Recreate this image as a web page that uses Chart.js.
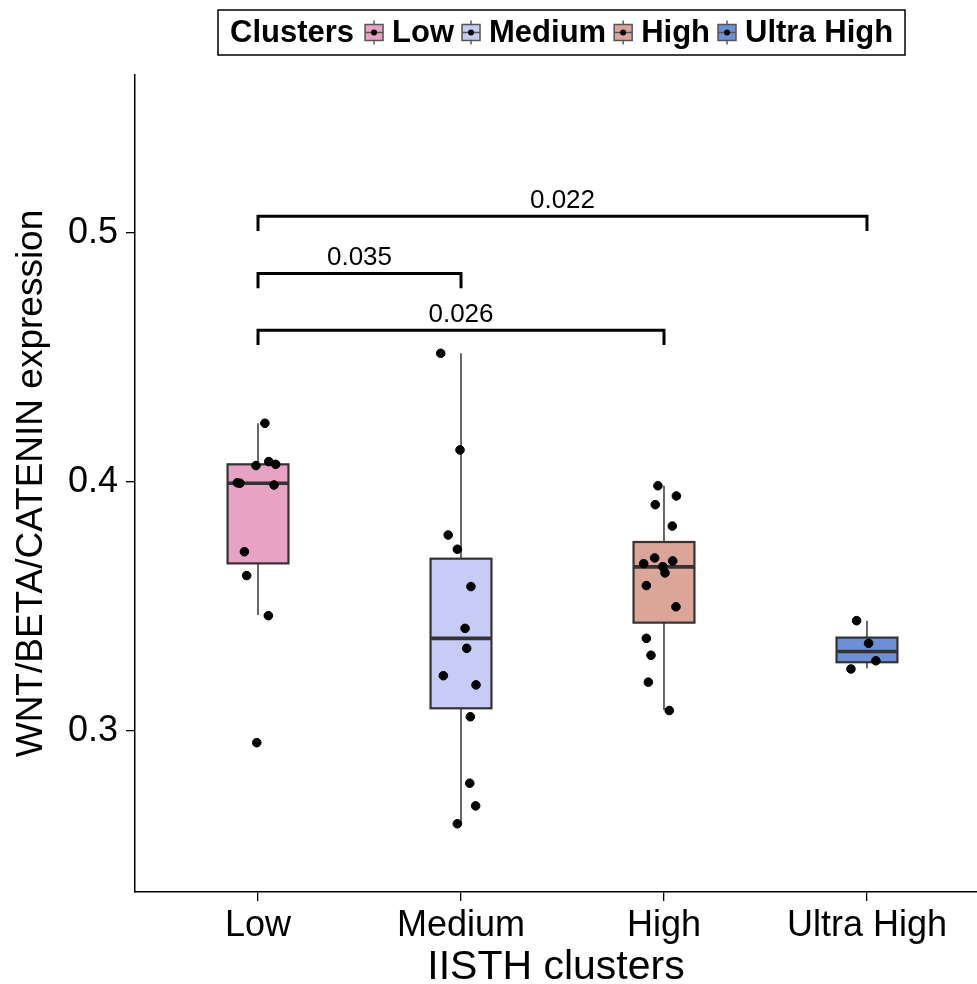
<!DOCTYPE html>
<html>
<head>
<meta charset="utf-8">
<script src="https://cdn.jsdelivr.net/npm/chart.js@4/dist/chart.umd.min.js"></script>
<style>
  html, body { margin: 0; padding: 0; background: #fff; }
</style>
</head>
<body>
<canvas id="chart" width="977" height="984"></canvas>
<script>
var categories = ['Low', 'Medium', 'High', 'Ultra High'];
var boxColors = ['#E7A2C5', '#C6CCF5', '#DBA699', '#6D8FD7'];

// box statistics per cluster
var whiskerLow = [0.3466, 0.2629, 0.3084, 0.3252];
var q1 = [0.3673, 0.3091, 0.3435, 0.3276];
var medians = [0.3995, 0.3372, 0.3659, 0.3319];
var q3 = [0.4071, 0.3692, 0.3759, 0.3375];
var whiskerHigh = [0.4236, 0.4517, 0.3985, 0.3443];

// jittered points (value, horizontal jitter in category units)
var lowValues = [0.4236, 0.4066, 0.4082, 0.4071, 0.3997, 0.3995, 0.3988, 0.3720, 0.3624, 0.3463, 0.2953];
var lowJitter = [0.034, -0.010, 0.053, 0.087, -0.102, -0.089, 0.079, -0.067, -0.056, 0.051, -0.006];
var mediumValues = [0.4517, 0.4129, 0.3787, 0.3730, 0.3580, 0.3412, 0.3332, 0.3222, 0.3185, 0.3057, 0.2790, 0.2699, 0.2627];
var mediumJitter = [-0.100, -0.005, -0.063, -0.018, 0.049, 0.020, 0.028, -0.087, 0.074, 0.046, 0.043, 0.072, -0.018];
var highValues = [0.3985, 0.3944, 0.3909, 0.3823, 0.3695, 0.3672, 0.3683, 0.3660, 0.3635, 0.3584, 0.3499, 0.3372, 0.3304, 0.3196, 0.3082];
var highJitter = [-0.030, 0.061, -0.043, 0.041, -0.046, -0.100, 0.043, -0.006, 0.005, -0.087, 0.059, -0.087, -0.064, -0.077, 0.026];
var ultraValues = [0.3443, 0.3352, 0.3282, 0.3249];
var ultraJitter = [-0.051, 0.008, 0.044, -0.079];

var seriesValues = [lowValues, mediumValues, highValues, ultraValues];
var seriesJitter = [lowJitter, mediumJitter, highJitter, ultraJitter];

var yTicks = [0.3, 0.4, 0.5];

// significance brackets
var pLabels = ['0.022', '0.035', '0.026'];
var pFrom = [0, 0, 0];
var pTo = [3, 1, 2];
var pHeight = [0.5068, 0.4838, 0.4610];
var pTip = 0.006;

var FONT = "'Liberation Sans', Arial, Helvetica, sans-serif";
var boxHalf = 0.15;

var boxPlugin = {
  id: 'boxes',
  beforeDatasetsDraw: function (chart) {
    var c = chart.ctx, xs = chart.scales.x, ys = chart.scales.y;
    c.save();
    for (var i = 0; i < categories.length; i++) {
      var xc = xs.getPixelForValue(i);
      var xl = xs.getPixelForValue(i - boxHalf);
      var xr = xs.getPixelForValue(i + boxHalf);
      // whiskers
      c.strokeStyle = '#444';
      c.lineWidth = 1.6;
      c.beginPath();
      c.moveTo(xc, ys.getPixelForValue(whiskerHigh[i]));
      c.lineTo(xc, ys.getPixelForValue(q3[i]));
      c.moveTo(xc, ys.getPixelForValue(q1[i]));
      c.lineTo(xc, ys.getPixelForValue(whiskerLow[i]));
      c.stroke();
      // box
      var yt = ys.getPixelForValue(q3[i]);
      var yb = ys.getPixelForValue(q1[i]);
      c.fillStyle = boxColors[i];
      c.fillRect(xl, yt, xr - xl, yb - yt);
      c.strokeStyle = '#333';
      c.lineWidth = 2.2;
      c.strokeRect(xl, yt, xr - xl, yb - yt);
      // median
      c.lineWidth = 3.6;
      c.beginPath();
      c.moveTo(xl, ys.getPixelForValue(medians[i]));
      c.lineTo(xr, ys.getPixelForValue(medians[i]));
      c.stroke();
    }
    c.restore();
  },
  afterDraw: function (chart) {
    var c = chart.ctx, xs = chart.scales.x, ys = chart.scales.y;
    c.save();
    // brackets
    c.strokeStyle = '#000';
    c.lineWidth = 3;
    c.lineJoin = 'miter';
    c.fillStyle = '#000';
    c.font = '26px ' + FONT;
    c.textAlign = 'center';
    c.textBaseline = 'alphabetic';
    for (var k = 0; k < pLabels.length; k++) {
      var x1 = xs.getPixelForValue(pFrom[k]);
      var x2 = xs.getPixelForValue(pTo[k]);
      var yh = ys.getPixelForValue(pHeight[k]);
      var yt = ys.getPixelForValue(pHeight[k] - pTip);
      c.beginPath();
      c.moveTo(x1, yt);
      c.lineTo(x1, yh);
      c.lineTo(x2, yh);
      c.lineTo(x2, yt);
      c.stroke();
      c.fillText(pLabels[k], (x1 + x2) / 2, yh - 8);
    }
    // legend
    var lx = 218, ly = 10, lw = 687, lh = 45;
    c.lineWidth = 1.5;
    c.strokeRect(lx, ly, lw, lh);
    var cy = ly + lh / 2;
    c.font = 'bold 31px ' + FONT;
    c.textAlign = 'left';
    c.textBaseline = 'middle';
    var x = 230;
    c.fillText('Clusters', x, cy + 1);
    x += c.measureText('Clusters').width + 10;
    for (var i = 0; i < categories.length; i++) {
      // key glyph
      c.strokeStyle = '#444';
      c.lineWidth = 1.3;
      c.beginPath();
      c.moveTo(x + 10, cy - 12);
      c.lineTo(x + 10, cy + 12);
      c.stroke();
      c.fillStyle = boxColors[i];
      c.fillRect(x + 1, cy - 8, 18, 16);
      c.strokeStyle = '#555';
      c.lineWidth = 1.5;
      c.strokeRect(x + 1, cy - 8, 18, 16);
      c.beginPath();
      c.moveTo(x + 1, cy);
      c.lineTo(x + 19, cy);
      c.stroke();
      c.fillStyle = '#000';
      c.beginPath();
      c.arc(x + 10, cy, 3, 0, Math.PI * 2);
      c.fill();
      x += 28;
      c.fillText(categories[i], x, cy + 1);
      x += c.measureText(categories[i]).width + 7;
    }
    c.restore();
  }
};

var ctx = document.getElementById('chart');
new Chart(ctx, {
  type: 'scatter',
  data: {
    datasets: seriesValues.map(function (vals, i) {
      return {
        label: categories[i],
        data: vals.map(function (v, j) { return { x: i + seriesJitter[i][j], y: v }; }),
        backgroundColor: '#000',
        borderColor: '#000',
        pointRadius: 4.3,
        pointHoverRadius: 4.3
      };
    })
  },
  options: {
    responsive: false,
    animation: false,
    layout: { autoPadding: false, padding: { top: 75, right: 0, left: 0, bottom: 0 } },
    plugins: { legend: { display: false }, tooltip: { enabled: false } },
    scales: {
      x: {
        type: 'linear',
        min: -0.606,
        max: 3.542,
        afterBuildTicks: function (s) { s.ticks = categories.map(function (c, i) { return { value: i }; }); },
        afterFit: function (s) { s.height = 92; },
        ticks: {
          callback: function (v) { return categories[v]; },
          font: { size: 36, family: FONT },
          color: '#000',
          padding: 3,
          maxRotation: 0
        },
        grid: { drawOnChartArea: false, drawTicks: true, tickLength: 9, color: '#000', lineWidth: 1.3 },
        border: { color: '#000', width: 1.5 },
        title: { display: true, text: 'IISTH clusters', font: { size: 41, family: FONT, lineHeight: 0.8 }, color: '#000', padding: { top: 0, bottom: 0 } }
      },
      y: {
        min: 0.2353,
        max: 0.5635,
        afterBuildTicks: function (s) { s.ticks = yTicks.map(function (v) { return { value: v }; }); },
        afterFit: function (s) { s.width = 135; },
        ticks: {
          callback: function (v) { return v.toFixed(1); },
          font: { size: 36, family: FONT },
          color: '#000',
          padding: 8
        },
        grid: { drawOnChartArea: false, drawTicks: true, tickLength: 9, color: '#000', lineWidth: 1.3 },
        border: { color: '#000', width: 1.5 },
        title: { display: true, text: 'WNT/BETA/CATENIN expression', font: { size: 37, family: FONT }, color: '#000', padding: { top: 10, bottom: 0 } }
      }
    }
  },
  plugins: [boxPlugin]
});
</script>
</body>
</html>
